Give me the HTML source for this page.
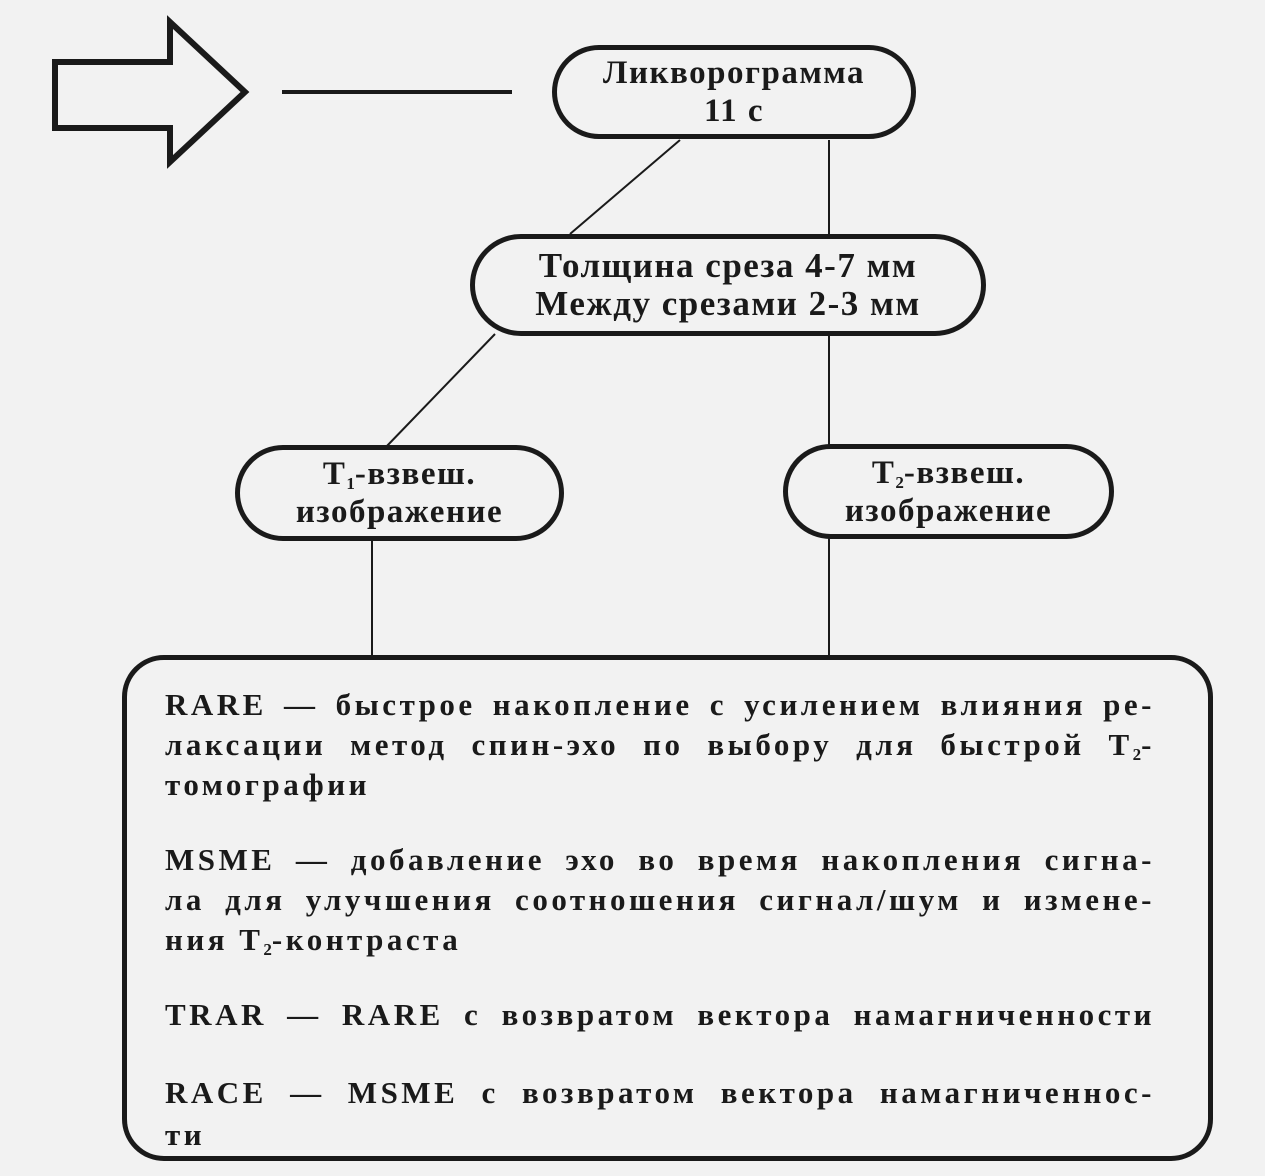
<!DOCTYPE html>
<html><head><meta charset="utf-8"><style>
body{margin:0;width:1265px;height:1176px;background:#f2f2f2;position:relative;overflow:hidden;font-family:"Liberation Serif",serif;font-weight:bold;color:#1a1a1a}
.n{position:absolute;border:5px solid #1a1a1a;border-radius:60px;box-sizing:border-box;display:flex;align-items:center;justify-content:center;text-align:center;font-size:33px;line-height:38px;letter-spacing:1.5px}
.l{position:absolute;left:165px;width:990px;font-size:31px;line-height:40px;height:40px;white-space:nowrap;letter-spacing:3.5px}
.j{text-align:justify;text-align-last:justify}
sub{font-size:17px;vertical-align:-5px;letter-spacing:0;line-height:0}
</style></head><body>
<svg width="1265" height="1176" style="position:absolute;left:0;top:0">
<polygon points="55,62 170,62 170,22 245,92 170,162 170,128 55,128" fill="none" stroke="#1a1a1a" stroke-width="6"/>
<line x1="282" y1="92" x2="512" y2="92" stroke="#1a1a1a" stroke-width="4"/>
<g stroke="#1a1a1a" stroke-width="2">
<line x1="680" y1="140" x2="570" y2="234"/>
<line x1="829" y1="140" x2="829" y2="234"/>
<line x1="495" y1="334" x2="385" y2="448"/>
<line x1="829" y1="334" x2="829" y2="448"/>
<line x1="372" y1="540" x2="372" y2="657"/>
<line x1="829" y1="538" x2="829" y2="657"/>
</g></svg>
<div class="n" style="left:552px;top:45px;width:364px;height:94px"><div>Ликворограмма<br>11 с</div></div>
<div class="n" style="left:470px;top:234px;width:516px;height:102px;font-size:35px"><div>Толщина среза 4-7 мм<br>Между срезами 2-3 мм</div></div>
<div class="n" style="left:235px;top:445px;width:329px;height:96px"><div>T<sub>1</sub>-взвеш.<br>изображение</div></div>
<div class="n" style="left:783px;top:444px;width:331px;height:95px"><div>T<sub>2</sub>-взвеш.<br>изображение</div></div>
<div class="n" style="left:122px;top:655px;width:1091px;height:506px;border-radius:42px"></div>
<div class="l j" style="top:685px">RARE — быстрое накопление с усилением влияния ре-</div>
<div class="l j" style="top:725px">лаксации метод спин-эхо по выбору для быстрой T<sub>2</sub>-</div>
<div class="l" style="top:765px">томографии</div>
<div class="l j" style="top:840px">MSME — добавление эхо во время накопления сигна-</div>
<div class="l j" style="top:880px">ла для улучшения соотношения сигнал/шум и измене-</div>
<div class="l" style="top:920px">ния T<sub>2</sub>-контраста</div>
<div class="l j" style="top:995px">TRAR — RARE с возвратом вектора намагниченности</div>
<div class="l j" style="top:1073px">RACE — MSME с возвратом вектора намагниченнос-</div>
<div class="l" style="top:1115px">ти</div>
</body></html>
